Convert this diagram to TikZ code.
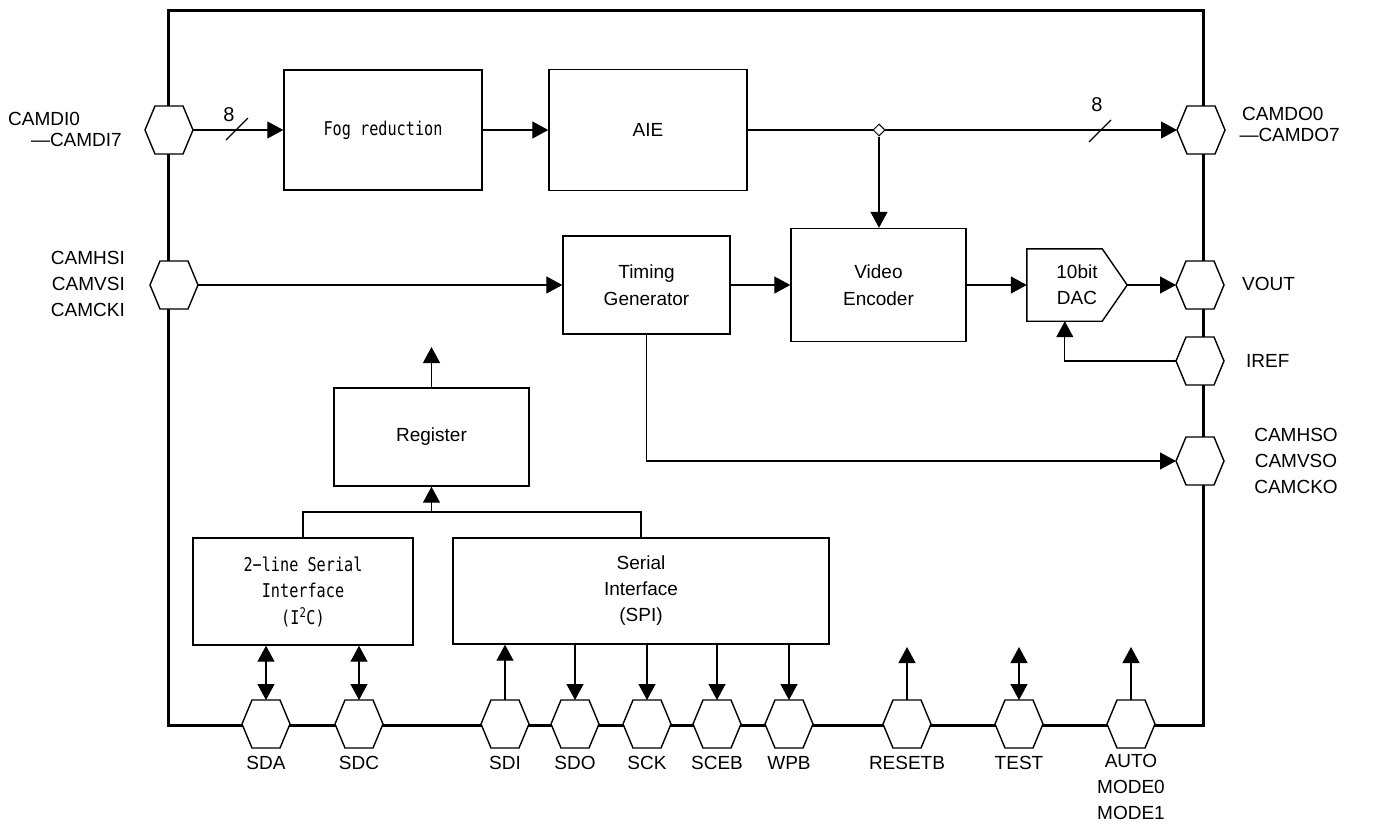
\documentclass[tikz,border=0pt]{standalone}
\usepackage{fontspec}
\setmainfont{Liberation Sans}
\newfontfamily\gothfont[FakeStretch=0.8]{DejaVu Sans Mono}
\usetikzlibrary{arrows.meta,shapes.geometric,calc}
\tikzset{
  frameline/.style={line width=3pt},
  blk/.style={draw, line width=1.4pt, rectangle, inner sep=0pt, align=center, font=\fontsize{19}{27}\selectfont},
  gblk/.style={blk, font=\gothfont\fontsize{19}{26.5}\selectfont},
  pinbox/.style={rectangle, minimum width=48pt, minimum height=48pt, inner sep=0pt, outer sep=0pt},
  pinline/.style={draw, fill=white, line width=1.4pt, line join=miter},
  dacbox/.style={rectangle, minimum width=100pt, minimum height=72pt, inner sep=0pt, align=center, font=\fontsize{19}{26}\selectfont},
  conn/.style={line width=1.3pt},
  arr/.style={conn, -{Triangle[length=16pt,width=17pt]}},
  biarr/.style={conn, {Triangle[length=16pt,width=17pt]}-{Triangle[length=16pt,width=17pt]}},
  lbl/.style={inner sep=0pt, align=center, font=\fontsize{19}{26}\selectfont},
  junc/.style={diamond, draw, fill=white, line width=1pt, minimum size=12pt, inner sep=0pt},
}
\newcommand\hexpin[3]{%
  \node[pinbox] (#1) at (#2,#3) {};
  \path[pinline] (#1.west) -- ([xshift=10pt]#1.north west) -- ([xshift=-10pt]#1.north east) -- (#1.east) -- ([xshift=-10pt]#1.south east) -- ([xshift=10pt]#1.south west) -- cycle;}
\begin{document}
\begin{tikzpicture}[x=1pt,y=-1pt]
\useasboundingbox (0,0) rectangle (1381,825);
% outer frame
\draw[frameline] (168,10) rectangle (1203,725);
% pins
\hexpin{camdi}{169}{130}
\hexpin{camhsi}{174}{285}
\hexpin{camdo}{1201}{130}
\hexpin{vout}{1200}{285}
\hexpin{iref}{1200}{361}
\hexpin{camhso}{1200}{461}
\hexpin{sda}{266}{724}
\hexpin{sdc}{359}{724}
\hexpin{sdi}{505}{724}
\hexpin{sdo}{575}{724}
\hexpin{sck}{647}{724}
\hexpin{sceb}{717}{724}
\hexpin{wpb}{789}{724}
\hexpin{resetb}{907}{724}
\hexpin{test}{1019}{724}
\hexpin{auto}{1131}{724}
% blocks
\node[gblk, minimum width=198pt, minimum height=120pt] (fog) at (383,130) {Fog reduction};
\node[blk, minimum width=198pt, minimum height=121pt] (aie) at (648,130) {AIE};
\node[blk, minimum width=167pt, minimum height=98pt] (tg) at (646.5,285) {Timing\\Generator};
\node[blk, minimum width=175pt, minimum height=113pt] (ve) at (878.5,285) {Video\\Encoder};
\node[dacbox] (dac) at (1077,285) {10bit\\DAC};
\draw[line width=1.4pt] (dac.north west) -- ([xshift=-25pt]dac.north east) -- (dac.east) -- ([xshift=-25pt]dac.south east) -- (dac.south west) -- cycle;
\node[blk, minimum width=195pt, minimum height=98pt] (reg) at (431.5,437) {Register};
\node[gblk, minimum width=220pt, minimum height=107pt] (i2c) at (303,591.5) {2−line Serial\\Interface\\(I\textsuperscript{2}C)};
\node[blk, minimum width=376pt, minimum height=106pt, font=\fontsize{19}{26}\selectfont] (spi) at (641,591) {Serial\\Interface\\(SPI)};
% top data path
\draw[arr] (camdi.east) -- (fog.west);
\draw[arr] (fog.east) -- (aie.west);
\draw[arr] (aie.east) -- (camdo.west);
\node[junc] (j) at (879,130) {};
\draw[arr] (j.south) -- (j |- ve.north);
\draw[conn] (226,140) -- (248,118);
\draw[conn] (1089,142) -- (1111,120);
\node[lbl, font=\fontsize{20}{26}\selectfont] (n8a) at (229,115) {8};
\node[lbl, font=\fontsize{20}{26}\selectfont] (n8b) at (1097,105) {8};
% sync / video path
\draw[arr] (camhsi.east) -- (tg.west);
\draw[arr] (tg.east) -- (ve.west);
\draw[arr] (ve.east) -- (dac.west);
\draw[arr] (dac.east) -- (vout.west);
\coordinate (dacin) at ($(dac.south west)+(38,0)$);
\draw[arr] (iref.west) -| (dacin);
\draw[arr] (tg.south) |- (camhso.west);
% register
\coordinate (regup) at (431.5,347);
\draw[arr] (reg.north) -- (regup);
\coordinate (bus) at (431.5,512);
\draw[conn] (i2c.north) |- (bus) -| (spi.north);
\draw[arr] (bus) -- (reg.south);
% bottom pins
\foreach \p in {sda,sdc} \draw[biarr] (\p.north |- i2c.south) -- (\p.north);
\draw[arr] (sdi.north) -- (sdi.north |- spi.south);
\foreach \p in {sdo,sck,sceb,wpb} \draw[arr] (\p.north |- spi.south) -- (\p.north);
\coordinate (rstup) at (907,647);
\coordinate (testup) at (1019,647);
\coordinate (autoup) at (1131,647);
\draw[arr] (resetb.north) -- (rstup);
\draw[biarr] (testup) -- (test.north);
\draw[arr] (auto.north) -- (autoup);
% labels
\node[lbl, anchor=west] (lcamdi0) at (8,119) {CAMDI0};
\node[lbl, anchor=east] (lcamdi7) at (122,140) {—CAMDI7};
\node[lbl, anchor=east, align=right] (lcamhsi) at (125,284) {CAMHSI\\CAMVSI\\CAMCKI};
\node[lbl, anchor=west] (lcamdo0) at (1242,114) {CAMDO0};
\node[lbl, anchor=east] (lcamdo7) at (1340,135) {—CAMDO7};
\node[lbl, anchor=west] (lvout) at (1242,284) {VOUT};
\node[lbl, anchor=west] (liref) at (1246,361) {IREF};
\node[lbl] (lcamhso) at (1296,461) {CAMHSO\\CAMVSO\\CAMCKO};
\node[lbl] (lsda) at (266,763) {SDA};
\node[lbl] (lsdc) at (359,763) {SDC};
\node[lbl] (lsdi) at (505,763) {SDI};
\node[lbl] (lsdo) at (575,763) {SDO};
\node[lbl] (lsck) at (647,763) {SCK};
\node[lbl] (lsceb) at (717,763) {SCEB};
\node[lbl] (lwpb) at (789,763) {WPB};
\node[lbl] (lresetb) at (907,763) {RESETB};
\node[lbl] (ltest) at (1019,763) {TEST};
\node[lbl] (lauto) at (1131,787) {AUTO\\MODE0\\MODE1};
\end{tikzpicture}
\end{document}
